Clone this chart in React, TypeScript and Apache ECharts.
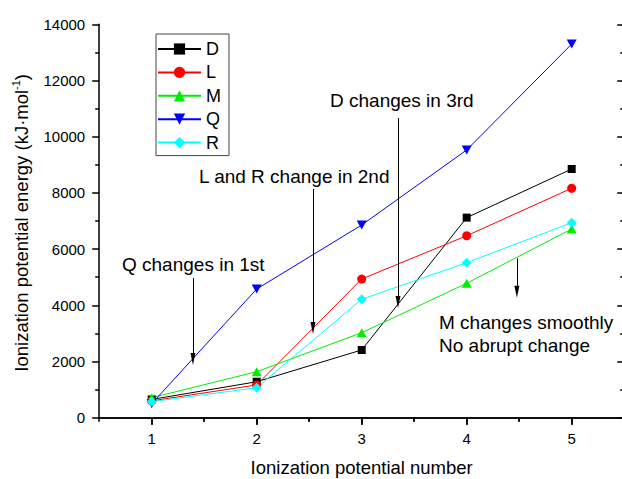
import React, { useEffect, useRef } from "react";
import * as echarts from "echarts";

const seriesNames = ["D", "L", "M", "Q", "R"];
const potentialNumbers = [1, 2, 3, 4, 5];
const dValues = [650, 1280, 2410, 7120, 8850];
const lValues = [600, 1165, 4935, 6475, 8165];
const mValues = [712, 1637, 3025, 4783, 6716];
const qValues = [500, 4580, 6858, 9528, 13298];
const rValues = [570, 1068, 4214, 5516, 6940];

const yMajorTicks = [0, 2000, 4000, 6000, 8000, 10000, 12000, 14000];
const yMinorTicks = [1000, 3000, 5000, 7000, 9000, 11000, 13000];
const xMajorTicks = [1, 2, 3, 4, 5];
const xMinorTicks = [1.5, 2.5, 3.5, 4.5];

// annotation arrows: [x, yFrom, yTo] in data units
const arrowQ = [1.393, 4971, 2089];
const arrowL = [2.536, 8139, 3190];
const arrowD = [3.346, 10665, 4117];
const arrowM = [4.478, 5672, 4484];

const FONT = "Liberation Sans, Arial, sans-serif";

export default function App() {
  const ref = useRef<HTMLDivElement>(null);
  useEffect(() => {
    if (!ref.current) return;
    const chart = echarts.init(ref.current, null, { renderer: "svg" });
    const pairs = (vals: number[]) => potentialNumbers.map((x, i) => [x, vals[i]]);
    const yMin = -128;
    const yMax = 14000;
    const axisLine = { show: true, lineStyle: { color: "#000", width: 1.5 } };
    const mkSeries = (name: string, vals: number[], color: string, symbol: string, size: any, rotate = 0) => ({
      name,
      type: "line",
      xAxisIndex: 0,
      yAxisIndex: 0,
      data: pairs(vals),
      symbol,
      symbolSize: size,
      symbolRotate: rotate,
      showSymbol: true,
      lineStyle: { color, width: 1 },
      itemStyle: { color, borderWidth: 0 },
      emphasis: { disabled: true },
    });
    const arrow = (a: number[]) => [
      { coord: [a[0], a[1]], symbol: "none" },
      { coord: [a[0], a[2]], symbol: "triangle", symbolSize: [5, 12] },
    ];
    chart.setOption({
      animation: false,
      backgroundColor: "#fff",
      textStyle: { fontFamily: FONT, color: "#000" },
      grid: {
        left: 99.2,
        top: 24.3,
        width: 525,
        height: 397,
        containLabel: false,
        outerBoundsMode: "none",
      },
      legend: {
        data: seriesNames,
        orient: "vertical",
        left: 156,
        top: 34,
        itemWidth: 43,
        itemHeight: 14,
        itemGap: 5.4,
        padding: [6, 8, 4, 1],
        borderColor: "#444",
        borderWidth: 1,
        textStyle: { fontSize: 18, color: "#000", fontFamily: FONT, lineHeight: 18 },
        selectedMode: false,
      },
      xAxis: [
        {
          type: "value",
          min: 0.5,
          max: 5.5,
          position: "bottom",
          name: "Ionization potential number",
          nameLocation: "middle",
          nameGap: 37,
          nameTextStyle: { fontSize: 18.5, color: "#000", fontFamily: FONT },
          axisLine,
          axisTick: { show: true, inside: false, length: 7, customValues: xMajorTicks, lineStyle: { color: "#000", width: 1.5 } },
          axisLabel: {
            show: true,
            customValues: xMajorTicks,
            fontSize: 15,
            color: "#000",
            margin: 10,
            fontFamily: FONT,
            formatter: (v: number) => String(v),
          },
          splitLine: { show: false },
        },
        {
          type: "value",
          min: 0.5,
          max: 5.5,
          position: "bottom",
          axisLine: { show: false },
          axisTick: { show: true, inside: false, length: 4, customValues: xMinorTicks, lineStyle: { color: "#000", width: 1.5 } },
          axisLabel: { show: false },
          splitLine: { show: false },
        },
        {
          type: "value",
          min: 0.5,
          max: 5.5,
          position: "top",
          axisLine,
          axisTick: { show: true, inside: true, length: 7, customValues: xMajorTicks, lineStyle: { color: "#000", width: 1.5 } },
          axisLabel: { show: false },
          splitLine: { show: false },
        },
        {
          type: "value",
          min: 0.5,
          max: 5.5,
          position: "top",
          axisLine: { show: false },
          axisTick: { show: true, inside: true, length: 4, customValues: xMinorTicks, lineStyle: { color: "#000", width: 1.5 } },
          axisLabel: { show: false },
          splitLine: { show: false },
        },
      ],
      yAxis: [
        {
          type: "value",
          min: yMin,
          max: yMax,
          position: "left",
          name: "Ionization potential energy (kJ·mol{sup|-1})",
          nameLocation: "middle",
          nameGap: 55,
          nameRotate: 90,
          nameTextStyle: {
            fontSize: 18.5,
            color: "#000",
            fontFamily: FONT,
            lineHeight: 22,
            rich: { sup: { fontSize: 11, verticalAlign: "top", lineHeight: 12, padding: [0, 0, 8, 0] } },
          },
          axisLine,
          axisTick: { show: true, inside: false, length: 7, customValues: yMajorTicks, lineStyle: { color: "#000", width: 1.5 } },
          axisLabel: {
            show: true,
            customValues: yMajorTicks,
            fontSize: 15,
            color: "#000",
            margin: 14,
            fontFamily: FONT,
            formatter: (v: number) => String(v),
          },
          splitLine: { show: false },
        },
        {
          type: "value",
          min: yMin,
          max: yMax,
          position: "left",
          axisLine: { show: false },
          axisTick: { show: true, inside: false, length: 4, customValues: yMinorTicks, lineStyle: { color: "#000", width: 1.5 } },
          axisLabel: { show: false },
          splitLine: { show: false },
        },
        {
          type: "value",
          min: yMin,
          max: yMax,
          position: "right",
          axisLine,
          axisTick: { show: true, inside: true, length: 7, customValues: yMajorTicks, lineStyle: { color: "#000", width: 1.5 } },
          axisLabel: { show: false },
          splitLine: { show: false },
        },
        {
          type: "value",
          min: yMin,
          max: yMax,
          position: "right",
          axisLine: { show: false },
          axisTick: { show: true, inside: true, length: 4, customValues: yMinorTicks, lineStyle: { color: "#000", width: 1.5 } },
          axisLabel: { show: false },
          splitLine: { show: false },
        },
      ],
      series: [
        mkSeries("D", dValues, "#000000", "rect", 8),
        mkSeries("L", lValues, "#ff0000", "circle", 9),
        mkSeries("M", mValues, "#00ee00", "triangle", [10, 9]),
        mkSeries("Q", qValues, "#0000ff", "triangle", [10, 9], 180),
        mkSeries("R", rValues, "#00ffff", "diamond", 10),
        {
          name: "arrows",
          type: "line",
          xAxisIndex: 0,
          yAxisIndex: 0,
          data: [],
          silent: true,
          markLine: {
            silent: true,
            animation: false,
            symbol: ["none", "triangle"],
            label: { show: false },
            lineStyle: { color: "#000", width: 1, type: "solid" },
            itemStyle: { color: "#000" },
            emphasis: { disabled: true },
            data: [arrow(arrowQ), arrow(arrowL), arrow(arrowD), arrow(arrowM)],
          },
        },
      ],
      graphic: [
        { type: "text", x: 330, y: 91, style: { text: "D changes in 3rd", fill: "#000", font: `19px ${FONT}` } },
        { type: "text", x: 199, y: 167, style: { text: "L and R change in 2nd", fill: "#000", font: `19px ${FONT}` } },
        { type: "text", x: 122, y: 254.5, style: { text: "Q changes in 1st", fill: "#000", font: `19px ${FONT}` } },
        { type: "text", x: 439, y: 312.5, style: { text: "M changes smoothly", fill: "#000", font: `19px ${FONT}` } },
        { type: "text", x: 439, y: 336, style: { text: "No abrupt change", fill: "#000", font: `19px ${FONT}` } },
      ],
    });
    return () => chart.dispose();
  }, []);
  return (
    <div
      ref={ref}
      style={{ position: "fixed", left: 0, top: 0, width: 622, height: 479, background: "#fff" }}
    />
  );
}
